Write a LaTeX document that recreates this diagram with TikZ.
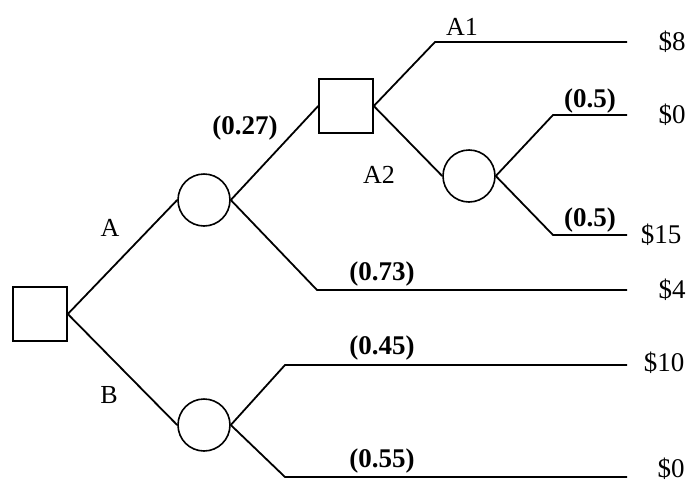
\documentclass[tikz,border=0pt]{standalone}
\usepackage{fontspec}
\setmainfont{Liberation Serif}

\tikzstyle{decnode}=[rectangle,
                     draw,
                     line width=1.6pt,
                     minimum size=54pt,
                     inner sep=0pt]
\tikzstyle{chancenode}=[circle,
                        draw,
                        line width=1.6pt,
                        minimum size=52pt,
                        inner sep=0pt]
\tikzstyle{branch}=[line width=1.8pt, line join=round]
\tikzstyle{problabel}=[font=\fontsize{27}{27}\selectfont\bfseries, inner sep=0pt]
\tikzstyle{altlabel}=[font=\fontsize{26}{26}\selectfont, inner sep=0pt]
\tikzstyle{payoff}=[font=\fontsize{27}{27}\selectfont, inner sep=0pt]

\begin{document}
\begin{tikzpicture}[x=1pt,y=-1pt]
    \useasboundingbox (0,0) rectangle (688,485);
    \node [decnode] (root) at (40,314) {};
    \node [chancenode] (chA) at (204,200) {};
    \node [chancenode] (chB) at (204,425) {};
    \node [decnode] (decA) at (346,106) {};
    \node [chancenode] (chA2) at (469,176) {};

    \coordinate (kA1) at (435,42);   \coordinate (eA1) at (627,42);
    \coordinate (kUp) at (553,115);  \coordinate (eUp) at (627,115);
    \coordinate (kDn) at (553,235);  \coordinate (eDn) at (627,235);
    \coordinate (kS73) at (317,290); \coordinate (eS73) at (627,290);
    \coordinate (kS45) at (285,365); \coordinate (eS45) at (627,365);
    \coordinate (kS55) at (285,477); \coordinate (eS55) at (627,477);

    \draw [branch] (root.east) -- (chA.west);
    \draw [branch] (root.east) -- (chB.west);
    \draw [branch] (chA.east) -- (decA.west);
    \draw [branch] (chA.east) -- (kS73) -- (eS73);
    \draw [branch] (decA.east) -- (kA1) -- (eA1);
    \draw [branch] (decA.east) -- (chA2.west);
    \draw [branch] (chA2.east) -- (kUp) -- (eUp);
    \draw [branch] (chA2.east) -- (kDn) -- (eDn);
    \draw [branch] (chB.east) -- (kS45) -- (eS45);
    \draw [branch] (chB.east) -- (kS55) -- (eS55);

    \node [altlabel] (lA) at (110,228) {A};
    \node [altlabel] (lB) at (109,395) {B};
    \node [altlabel] (lA1) at (462,27) {A1};
    \node [altlabel] (lA2) at (379,175) {A2};

    \node [problabel] (p27) at (245,128) {(0.27)};
    \node [problabel] (p73) at (382,274) {(0.73)};
    \node [problabel] (p5a) at (590,101) {(0.5)};
    \node [problabel] (p5b) at (590,220) {(0.5)};
    \node [problabel] (p45) at (382,348) {(0.45)};
    \node [problabel] (p55) at (382,461) {(0.55)};

    \node [payoff] (v8) at (672,42) {\$8};
    \node [payoff] (v0a) at (672,115) {\$0};
    \node [payoff] (v15) at (661,235) {\$15};
    \node [payoff] (v4) at (672,290) {\$4};
    \node [payoff] (v10) at (664,363) {\$10};
    \node [payoff] (v0b) at (671,469) {\$0};
\end{tikzpicture}
\end{document}
